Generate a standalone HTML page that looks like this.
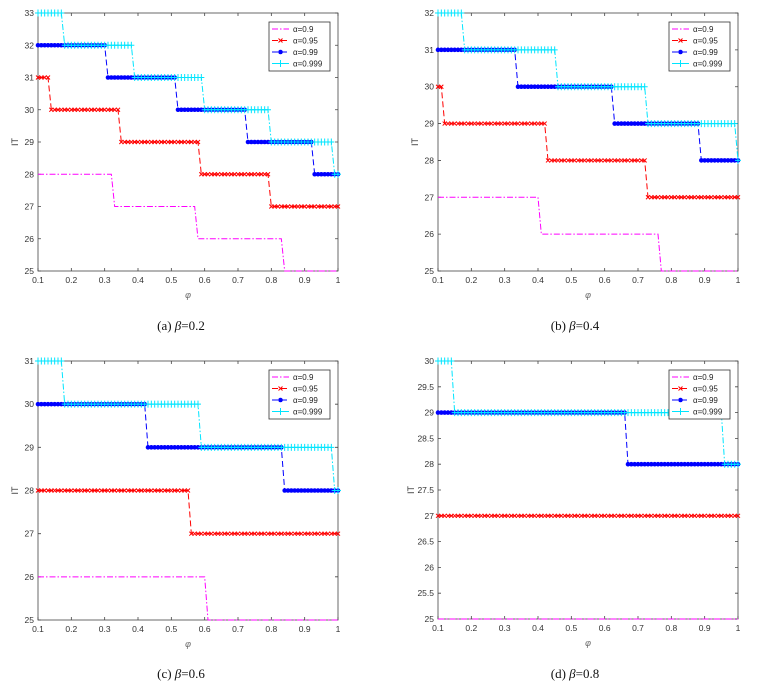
<!DOCTYPE html>
<html><head><meta charset="utf-8">
<style>
html,body{margin:0;padding:0;background:#fff;}
svg text{font-family:"Liberation Sans",sans-serif;}
</style></head>
<body>
<svg id="fig" width="780" height="689" viewBox="0 0 780 689" xmlns="http://www.w3.org/2000/svg"></svg>
<script>
// ---- data (phi breakpoints and IT levels) ----
const seriesLabels = ["α=0.9","α=0.95","α=0.99","α=0.999"];
const panelCaptions = ["β=0.2","β=0.4","β=0.6","β=0.8"];
const panelTags = ["(a)","(b)","(c)","(d)"];
const xTicks = [0.1,0.2,0.3,0.4,0.5,0.6,0.7,0.8,0.9,1];
// panel a
const aBreaks09 = [0.32,0.575,0.83];      const aLevels09 = [28,27,26,25];
const aBreaks095 = [0.13,0.345,0.58,0.79]; const aLevels095 = [31,30,29,28,27];
const aBreaks099 = [0.30,0.51,0.72,0.92];  const aLevels099 = [32,31,30,29,28];
const aBreaks0999 = [0.175,0.38,0.59,0.79,0.985]; const aLevels0999 = [33,32,31,30,29,28];
const aYTicks = [25,26,27,28,29,30,31,32,33];
// panel b
const bBreaks09 = [0.40,0.76];             const bLevels09 = [27,26,25];
const bBreaks095 = [0.115,0.42,0.72];      const bLevels095 = [30,29,28,27];
const bBreaks099 = [0.335,0.62,0.88];      const bLevels099 = [31,30,29,28];
const bBreaks0999 = [0.175,0.455,0.72,0.99]; const bLevels0999 = [32,31,30,29,28];
const bYTicks = [25,26,27,28,29,30,31,32];
// panel c
const cBreaks09 = [0.60];                  const cLevels09 = [26,25];
const cBreaks095 = [0.55];                 const cLevels095 = [28,27];
const cBreaks099 = [0.42,0.83];            const cLevels099 = [30,29,28];
const cBreaks0999 = [0.17,0.58,0.98];      const cLevels0999 = [31,30,29,28];
const cYTicks = [25,26,27,28,29,30,31];
// panel d
const dBreaks09 = [];                      const dLevels09 = [25];
const dBreaks095 = [];                     const dLevels095 = [27];
const dBreaks099 = [0.66];                 const dLevels099 = [29,28];
const dBreaks0999 = [0.145,0.95];          const dLevels0999 = [30,29,28];
const dYTicks = [25,25.5,26,26.5,27,27.5,28,28.5,29,29.5,30];

const NS="http://www.w3.org/2000/svg";
const fig=document.getElementById('fig');
function mk(tag,attrs,parent){const e=document.createElementNS(NS,tag);for(const k in attrs)e.setAttribute(k,attrs[k]);(parent||fig).appendChild(e);return e;}

const panels=[
 {L:38,R:338,T:13,B:271,ymin:25,ymax:33,yt:aYTicks,br:[aBreaks09,aBreaks095,aBreaks099,aBreaks0999],lv:[aLevels09,aLevels095,aLevels099,aLevels0999],cx:181,cy:330},
 {L:438,R:738,T:13,B:271,ymin:25,ymax:32,yt:bYTicks,br:[bBreaks09,bBreaks095,bBreaks099,bBreaks0999],lv:[bLevels09,bLevels095,bLevels099,bLevels0999],cx:575,cy:330},
 {L:38,R:338,T:361,B:620,ymin:25,ymax:31,yt:cYTicks,br:[cBreaks09,cBreaks095,cBreaks099,cBreaks0999],lv:[cLevels09,cLevels095,cLevels099,cLevels0999],cx:181,cy:678},
 {L:438,R:738,T:361,B:619,ymin:25,ymax:30,yt:dYTicks,br:[dBreaks09,dBreaks095,dBreaks099,dBreaks0999],lv:[dLevels09,dLevels095,dLevels099,dLevels0999],cx:575,cy:678}
];
const colors=["#ff00ff","#ff0000","#0000ff","#00e5ff"];
const dashes=["6,2,1.5,2","6,3","6,3","6,2,1.5,2"];

function stepVal(breaks,levels,x){let i=0;while(i<breaks.length&&x>breaks[i]+1e-9)i++;return levels[i];}

function marker(g,k,x,y){
  if(k===1){
    const p=mk('path',{d:`M${x-2},${y-2}L${x+2},${y+2}M${x-2},${y+2}L${x+2},${y-2}`,stroke:colors[1],'stroke-width':1},g);
    
    
  }else if(k===2){
    const c=mk('circle',{cx:x,cy:y,r:2.3,fill:colors[2]},g);
    
    
  }else if(k===3){
    const p=mk('path',{d:`M${x-3},${y}L${x+3},${y}M${x},${y-3.5}L${x},${y+3.5}`,stroke:colors[3],'stroke-width':1},g);
    
    
  }
}

panels.forEach((P,pi)=>{
  const g=mk('g',{});
  
  
  const sx=v=>P.L+(v-0.1)/0.9*(P.R-P.L);
  const sy=v=>P.B-(v-P.ymin)/(P.ymax-P.ymin)*(P.B-P.T);
  const box=mk('rect',{x:P.L,y:P.T,width:P.R-P.L,height:P.B-P.T,fill:'none',stroke:'#444','stroke-width':0.8},g);
  
  
  xTicks.forEach(t=>{
    const x=sx(t);
    mk('path',{d:`M${x},${P.B}v-3M${x},${P.T}v3`,stroke:'#444','stroke-width':0.8},g);
    const tx=mk('text',{x:x,y:P.B+12,'font-size':8.5,'text-anchor':'middle',fill:'#333'},g);
    tx.textContent=String(t);
    
    
  });
  P.yt.forEach(t=>{
    const y=sy(t);
    mk('path',{d:`M${P.L},${y}h3M${P.R},${y}h-3`,stroke:'#444','stroke-width':0.8},g);
    const tx=mk('text',{x:P.L-4,y:y+3,'font-size':8.5,'text-anchor':'end',fill:'#333'},g);
    tx.textContent=String(t);
    
    
  });
  const xl=mk('text',{x:(P.L+P.R)/2,y:P.B+27,'font-size':9,'text-anchor':'middle',fill:'#666','font-style':'italic'},g);
  xl.textContent='φ';
  
  
  const yx=(pi===3)?P.L-24:P.L-20;
  const yl=mk('text',{x:yx,y:(P.T+P.B)/2,'font-size':9,'text-anchor':'middle',fill:'#333',transform:`rotate(-90 ${yx} ${(P.T+P.B)/2})`},g);
  yl.textContent='IT';
  
  
  for(let k=0;k<4;k++){
    const sg=mk('g',{},g);
    
    
    const pts=[];
    for(let i=0;i<=90;i++){const xv=0.1+i*0.01;pts.push([sx(xv),sy(stepVal(P.br[k],P.lv[k],xv))]);}
    const line=mk('polyline',{points:pts.map(p=>p.join(',')).join(' '),fill:'none',stroke:colors[k],'stroke-width':1,'stroke-dasharray':dashes[k]},sg);
    
    
    if(k>0) pts.forEach(p=>marker(sg,k,p[0],p[1]));
  }
  const lx=P.R-69,ly=P.T+9;
  const lg=mk('g',{},g);
  
  
  mk('rect',{x:lx,y:ly,width:61,height:49,fill:'#fff',stroke:'#333','stroke-width':0.8},lg);
  for(let k=0;k<4;k++){
    const y=ly+7+k*11.5;
    const e=mk('g',{},lg);
    
    
    mk('line',{x1:lx+3,y1:y,x2:lx+20,y2:y,stroke:colors[k],'stroke-width':1,'stroke-dasharray':dashes[k]},e);
    if(k>0) marker(e,k,lx+11.5,y);
    const t=mk('text',{x:lx+24,y:y+3,'font-size':8,fill:'#222'},e);
    t.textContent=seriesLabels[k];
  }
  const cap=mk('text',{x:P.cx,y:P.cy,'font-size':13,'text-anchor':'middle',fill:'#111'},fig);
  cap.setAttribute('style','font-family:"Liberation Serif",serif');
  
  
  cap.textContent=panelTags[pi]+'  ';
  const it=mk('tspan',{'font-style':'italic'},cap);it.textContent='β';
  const rest=mk('tspan',{},cap);rest.textContent=panelCaptions[pi].slice(1);
});
</script>
</body></html>
